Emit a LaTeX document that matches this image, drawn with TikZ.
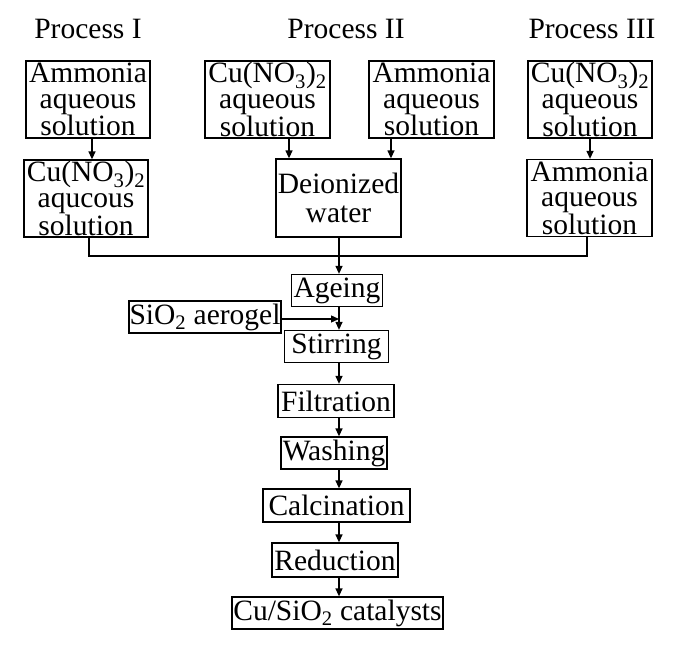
\documentclass[tikz,border=0pt]{standalone}
\usepackage{fontspec}
\setmainfont{Liberation Serif}
\usetikzlibrary{arrows.meta}
\begin{document}
\begin{tikzpicture}[x=1pt,y=-1pt,
  box/.style={draw,line width=1.3pt,inner sep=0pt,align=center,font=\fontsize{29.5}{25.5}\selectfont},
  ttl/.style={inner sep=0pt,anchor=base,font=\fontsize{29.5}{25.5}\selectfont},
  ln/.style={line width=1.3pt},
  arr/.style={ln,-{Triangle[length=8pt,width=7pt]}}]
\useasboundingbox (0,0) rectangle (685,656);
% titles
\node[ttl] (t1) at (88,38) {Process I};
\node[ttl] (t2) at (346,38) {Process II};
\node[ttl] (t3) at (592,38) {Process III};
% Process I
\node[box,minimum width=124pt,minimum height=77pt] (a1) at (88,99.5) {Ammonia\\aqueous\\solution};
\node[box,minimum width=124pt,minimum height=77pt] (a2) at (86,198.5) {Cu(NO\textsubscript{3})\textsubscript{2}\\aqucous\\solution};
% Process II
\node[box,minimum width=125pt,minimum height=77pt] (b1) at (267.5,99.5) {Cu(NO\textsubscript{3})\textsubscript{2}\\aqueous\\solution};
\node[box,minimum width=125pt,minimum height=77pt] (b2) at (431.5,99.5) {Ammonia\\aqueous\\solution};
\node[box,minimum width=125pt,minimum height=78pt,font=\fontsize{29.5}{29}\selectfont] (bw) at (338.5,198) {Deionized\\water};
% Process III
\node[box,minimum width=124pt,minimum height=77pt] (c1) at (590,99.5) {Cu(NO\textsubscript{3})\textsubscript{2}\\aqueous\\solution};
\node[box,minimum width=125pt,minimum height=77pt] (c2) at (589.5,198) {Ammonia\\aqueous\\solution};
% main chain
\node[box,minimum width=91pt,minimum height=32pt] (age) at (337,290.5) {Ageing};
\node[box,minimum width=152pt,minimum height=32pt] (aer) at (205,317) {SiO\textsubscript{2} aerogel};
\node[box,minimum width=104pt,minimum height=32pt] (sti) at (336.5,346.5) {Stirring};
\node[box,minimum width=116pt,minimum height=33pt] (fil) at (336,401) {Filtration};
\node[box,minimum width=106pt,minimum height=32pt] (was) at (334,453) {Washing};
\node[box,minimum width=147pt,minimum height=33pt] (cal) at (336.5,505.5) {Calcination};
\node[box,minimum width=126pt,minimum height=34pt] (red) at (335,560) {Reduction};
\node[box,minimum width=211pt,minimum height=32pt] (cat) at (337.5,613) {Cu/SiO\textsubscript{2} catalysts};
% coordinates
\coordinate (jn) at (339,256);
\coordinate (mg) at (339,319);
% connectors
\draw[arr] ([xshift=4pt]a1.south) -- ([xshift=6pt]a2.north);
\draw[arr] ([xshift=-49.5pt]bw.north |- b1.south) -- ([xshift=-49.5pt]bw.north);
\draw[arr] ([xshift=52.5pt]bw.north |- b2.south) -- ([xshift=52.5pt]bw.north);
\draw[arr] (c1.south) -- (c1.south |- c2.north);
\draw[ln] ([xshift=3pt]a2.south) |- (jn) -| ([xshift=-2.5pt]c2.south);
\draw[arr] (bw.south -| jn) -- (age.north -| jn);
\draw[arr] (age.south -| jn) -- (sti.north -| jn);
\draw[arr] (aer.east |- mg) -- (mg);
\draw[arr] (sti.south -| jn) -- (fil.north -| jn);
\draw[arr] (fil.south -| jn) -- (was.north -| jn);
\draw[arr] (was.south -| jn) -- (cal.north -| jn);
\draw[arr] (cal.south -| jn) -- (red.north -| jn);
\draw[arr] (red.south -| jn) -- (cat.north -| jn);
\end{tikzpicture}
\end{document}
